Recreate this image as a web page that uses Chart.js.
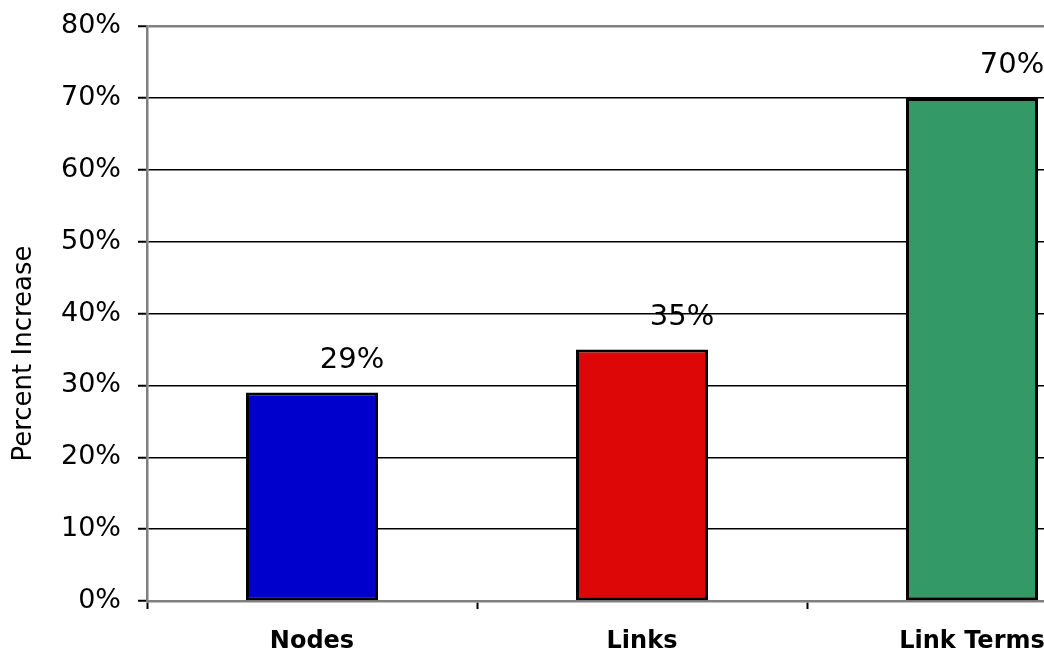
<!DOCTYPE html>
<html>
<head>
<meta charset="utf-8">
<script src="https://cdn.jsdelivr.net/npm/chart.js@4/dist/chart.umd.min.js"></script>
<style>
  html, body { margin: 0; padding: 0; background: #fff; overflow: hidden; }
  #wrap { width: 1140px; height: 653px; }
</style>
</head>
<body>
<div id="wrap"><canvas id="increaseChart" width="1140" height="653"></canvas></div>
<script>
const categories = ['Nodes', 'Links', 'Link Terms'];
const percentIncrease = [29, 35, 70];
const barColors = ['#0000CC', '#DD0707', '#339966'];
const yTicks = [0, 10, 20, 30, 40, 50, 60, 70, 80];
const yTitle = 'Percent Increase';

const fontFace = '"DejaVu Sans", Verdana, sans-serif';

// value labels sit up and to the right of each bar top
const valueLabels = {
    id: 'valueLabels',
    afterDatasetsDraw(chart) {
        const ctx = chart.ctx;
        const meta = chart.getDatasetMeta(0);
        ctx.save();
        ctx.font = '29px ' + fontFace;
        ctx.fillStyle = '#000';
        ctx.textAlign = 'center';
        ctx.textBaseline = 'middle';
        meta.data.forEach((bar, i) => {
            ctx.fillText(percentIncrease[i] + '%', bar.x + 40, bar.y - 32);
        });
        ctx.restore();
    }
};

// rotated axis title, a bit below the middle of the plot
const axisTitle = {
    id: 'axisTitle',
    afterDraw(chart) {
        const ctx = chart.ctx;
        const area = chart.chartArea;
        ctx.save();
        ctx.font = '26px ' + fontFace;
        ctx.fillStyle = '#000';
        ctx.textAlign = 'center';
        ctx.textBaseline = 'middle';
        ctx.translate(24, (area.top + area.bottom) / 2 + 40);
        ctx.rotate(-Math.PI / 2);
        ctx.fillText(yTitle, 0, 0);
        ctx.restore();
    }
};

let myChart;
function displayChart() {
    if (myChart) {
        myChart.destroy();
    }
    const ctx = document.getElementById('increaseChart').getContext('2d');
    myChart = new Chart(ctx, {
        type: 'bar',
        data: {
            labels: categories,
            datasets: [{
                label: yTitle,
                data: percentIncrease,
                backgroundColor: barColors,
                borderColor: '#000',
                borderWidth: 3,
                borderSkipped: false,
                barPercentage: 0.4,
                categoryPercentage: 1
            }]
        },
        options: {
            responsive: false,
            animation: false,
            layout: { padding: { top: 26, left: 0, right: 3, bottom: 0 } },
            plugins: {
                legend: { display: false },
                tooltip: { enabled: false }
            },
            scales: {
                x: {
                    offset: true,
                    afterFit: scale => { scale.height = 52; },
                    border: { color: '#808080', width: 2.5 },
                    grid: {
                        offset: true,
                        drawOnChartArea: false,
                        drawTicks: true,
                        tickLength: 8,
                        tickColor: '#000',
                        tickWidth: 2
                    },
                    ticks: {
                        color: '#000',
                        padding: 18,
                        font: { family: fontFace, size: 24, weight: 'bold' }
                    }
                },
                y: {
                    min: 0,
                    max: 80,
                    afterFit: scale => {
                        scale.width = 147;
                        scale.paddingTop = 0;
                        scale.paddingBottom = 0;
                    },
                    afterBuildTicks: scale => {
                        scale.ticks = yTicks.map(v => ({ value: v }));
                    },
                    border: { color: '#808080', width: 2.5 },
                    grid: {
                        color: c => (c.tick && c.tick.value === 80) ? '#808080' : '#000',
                        lineWidth: c => (c.tick && c.tick.value === 80) ? 2.5 : 1.5,
                        tickLength: 9,
                        tickColor: '#000',
                        tickWidth: 2
                    },
                    ticks: {
                        color: '#000',
                        padding: 17,
                        font: { family: fontFace, size: 27 },
                        callback: v => v + '%'
                    }
                }
            }
        },
        plugins: [valueLabels, axisTitle]
    });
}

displayChart();
</script>
</body>
</html>
